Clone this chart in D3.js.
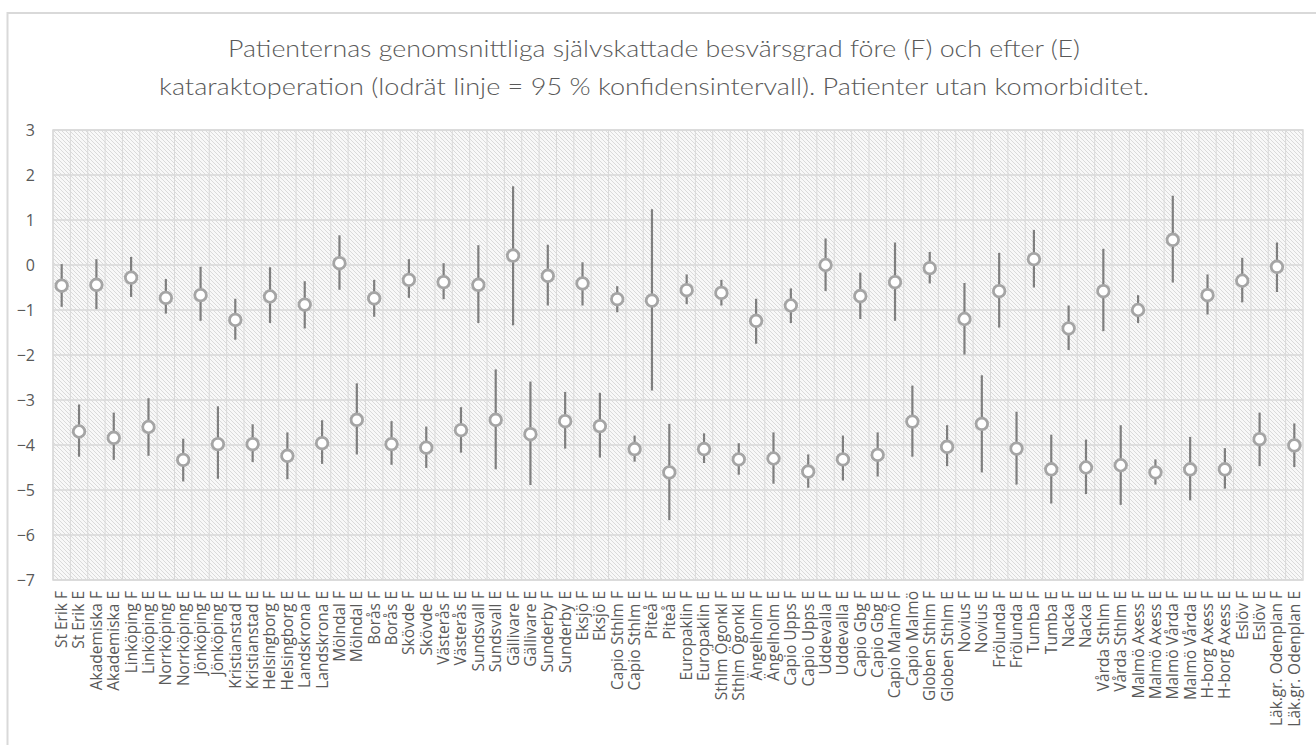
<!DOCTYPE html>
<html>
<head>
<meta charset="utf-8">
<script src="https://cdn.jsdelivr.net/npm/d3@7"></script>
<style>
  body { margin: 0; background: #fff; }
  svg { display: block; }
</style>
</head>
<body>
<svg></svg>
<script>
var width = 1316;
var height = 745;

// tick labels on the x axis, F = före, E = efter
var categories = [
  'St Erik F', 'St Erik E', 'Akademiska F', 'Akademiska E', 'Linköping F', 'Linköping E',
  'Norrköping F', 'Norrköping E', 'Jönköping F', 'Jönköping E', 'Kristianstad F', 'Kristianstad E',
  'Helsingborg F', 'Helsingborg E', 'Landskrona F', 'Landskrona E', 'Mölndal F', 'Mölndal E',
  'Borås F', 'Borås E', 'Skövde F', 'Skövde E', 'Västerås F', 'Västerås E',
  'Sundsvall F', 'Sundsvall E', 'Gällivare F', 'Gällivare E', 'Sunderby F', 'Sunderby E',
  'Eksjö F', 'Eksjö E', 'Capio Sthlm F', 'Capio Sthlm E', 'Piteå F', 'Piteå E',
  'Europaklin F', 'Europaklin E', 'Sthlm Ögonkl F', 'Sthlm Ögonkl E', 'Ängelholm F', 'Ängelholm E',
  'Capio Upps F', 'Capio Upps E', 'Uddevalla F', 'Uddevalla E', 'Capio Gbg F', 'Capio Gbg E',
  'Capio Malmö F', 'Capio Malmö', 'Globen Sthlm F', 'Globen Sthlm E', 'Novius F', 'Novius E',
  'Frölunda F', 'Frölunda E', 'Tumba F', 'Tumba E', 'Nacka F', 'Nacka E',
  'Vårda Sthlm F', 'Vårda Sthlm E', 'Malmö Axess F', 'Malmö Axess E', 'Malmö Vårda F', 'Malmö Vårda E',
  'H-borg Axess F', 'H-borg Axess E', 'Eslöv F', 'Eslöv E', 'Läk.gr. Odenplan F', 'Läk.gr. Odenplan E'
];

// före (F): mean and 95% CI, one per clinic
var fMean = [-0.46, -0.44, -0.28, -0.73, -0.67, -1.22, -0.70, -0.88, 0.04, -0.74, -0.33, -0.38,
             -0.44, 0.21, -0.24, -0.41, -0.76, -0.79, -0.56, -0.62, -1.24, -0.90, 0.00, -0.69,
             -0.38, -0.07, -1.20, -0.58, 0.13, -1.41, -0.58, -1.00, 0.56, -0.67, -0.35, -0.04];
var fLow  = [-0.93, -0.98, -0.71, -1.08, -1.24, -1.66, -1.29, -1.41, -0.55, -1.15, -0.73, -0.76,
             -1.29, -1.34, -0.90, -0.90, -1.05, -2.79, -0.87, -0.90, -1.75, -1.29, -0.58, -1.20,
             -1.24, -0.41, -1.99, -1.39, -0.50, -1.89, -1.47, -1.29, -0.39, -1.10, -0.83, -0.60];
var fHigh = [0.02, 0.13, 0.18, -0.31, -0.04, -0.75, -0.05, -0.36, 0.66, -0.33, 0.13, 0.04,
             0.44, 1.75, 0.45, 0.06, -0.47, 1.24, -0.21, -0.33, -0.75, -0.52, 0.59, -0.17,
             0.50, 0.29, -0.40, 0.27, 0.78, -0.90, 0.36, -0.67, 1.54, -0.21, 0.16, 0.50];

// efter (E)
var eMean = [-3.70, -3.84, -3.60, -4.33, -3.98, -3.98, -4.24, -3.96, -3.44, -3.98, -4.06, -3.67,
             -3.44, -3.76, -3.47, -3.58, -4.09, -4.61, -4.09, -4.32, -4.30, -4.59, -4.32, -4.22,
             -3.48, -4.04, -3.53, -4.08, -4.54, -4.50, -4.45, -4.61, -4.54, -4.54, -3.87, -4.01];
var eLow  = [-4.26, -4.33, -4.24, -4.81, -4.75, -4.38, -4.76, -4.42, -4.21, -4.44, -4.51, -4.17,
             -4.54, -4.89, -4.08, -4.28, -4.37, -5.67, -4.40, -4.66, -4.86, -4.95, -4.79, -4.70,
             -4.26, -4.47, -4.61, -4.88, -5.30, -5.09, -5.33, -4.88, -5.23, -4.97, -4.47, -4.49];
var eHigh = [-3.10, -3.28, -2.96, -3.86, -3.14, -3.54, -3.72, -3.45, -2.63, -3.47, -3.59, -3.16,
             -2.32, -2.59, -2.82, -2.84, -3.79, -3.53, -3.74, -3.96, -3.72, -4.21, -3.79, -3.72,
             -2.68, -3.56, -2.45, -3.26, -3.77, -3.88, -3.56, -4.32, -3.82, -4.07, -3.28, -3.52];

var yTicks = [3, 2, 1, 0, -1, -2, -3, -4, -5, -6, -7];

var titleLines = [
  'Patienternas genomsnittliga självskattade besvärsgrad före (F) och efter (E)',
  'kataraktoperation (lodrät linje = 95 % konfidensintervall). Patienter utan komorbiditet.'
];

var points = [];
fMean.forEach(function(m, i) {
  points.push({ cat: categories[2 * i], mean: m, lo: fLow[i], hi: fHigh[i] });
  points.push({ cat: categories[2 * i + 1], mean: eMean[i], lo: eLow[i], hi: eHigh[i] });
});

var margin = { top: 130, right: 13, bottom: 165, left: 53 };
var plotW = width - margin.left - margin.right;
var plotH = height - margin.top - margin.bottom;

var svg = d3.select('svg')
    .attr('width', width)
    .attr('height', height);

// hatch fill of the plot area
var defs = svg.append('defs');
var pat = defs.append('pattern')
    .attr('id', 'hatch')
    .attr('patternUnits', 'userSpaceOnUse')
    .attr('width', 4)
    .attr('height', 4);
pat.append('rect').attr('width', 4).attr('height', 4).attr('fill', '#f8f8f8');
pat.append('path')
    .attr('d', 'M-1,-1 L5,5 M-1,3 L1,5 M3,-1 L5,1')
    .attr('stroke', '#dadada')
    .attr('stroke-width', 1);

// outer chart frame
svg.append('rect')
    .attr('x', 7.5).attr('y', 13)
    .attr('width', width).attr('height', height)
    .attr('fill', 'none')
    .attr('stroke', '#d9d9d9')
    .attr('stroke-width', 2);

svg.append('g')
    .selectAll('text')
    .data(titleLines)
    .enter().append('text')
    .attr('x', 654)
    .attr('y', function(d, i) { return 57 + i * 38; })
    .attr('text-anchor', 'middle')
    .attr('font-family', 'Lato, sans-serif')
    .attr('font-weight', 300)
    .attr('font-size', 24)
    .attr('fill', '#595959')
    .attr('textLength', function(d, i) { return i === 0 ? 852 : 990; })
    .attr('lengthAdjust', 'spacingAndGlyphs')
    .text(function(d) { return d; });

var g = svg.append('g')
    .attr('transform', 'translate(' + margin.left + ',' + margin.top + ')');

var x = d3.scaleBand()
    .domain(categories)
    .range([0, plotW]);

var y = d3.scaleLinear()
    .domain([-7, 3])
    .range([plotH, 0]);

g.append('rect')
    .attr('width', plotW)
    .attr('height', plotH)
    .attr('fill', 'url(#hatch)');

// vertical category gridlines
g.append('g')
    .selectAll('line')
    .data(categories)
    .enter().append('line')
    .attr('x1', function(d) { return x(d); })
    .attr('x2', function(d) { return x(d); })
    .attr('y1', 0)
    .attr('y2', plotH)
    .attr('stroke', '#d9d9d9')
    .attr('stroke-width', 1);

// horizontal gridlines
g.append('g')
    .selectAll('line')
    .data(yTicks)
    .enter().append('line')
    .attr('x1', 0)
    .attr('x2', plotW)
    .attr('y1', function(d) { return y(d); })
    .attr('y2', function(d) { return y(d); })
    .attr('stroke', '#d9d9d9')
    .attr('stroke-width', 1.5);

g.append('rect')
    .attr('width', plotW)
    .attr('height', plotH)
    .attr('fill', 'none')
    .attr('stroke', '#d9d9d9')
    .attr('stroke-width', 1.5);

var yAxis = g.append('g')
    .call(d3.axisLeft(y).tickValues(yTicks).tickSize(0).tickPadding(18));
yAxis.select('.domain').remove();
yAxis.selectAll('text')
    .attr('font-family', 'Open Sans, sans-serif')
    .attr('font-size', 16)
    .attr('fill', '#595959');

var xAxis = g.append('g')
    .attr('transform', 'translate(0,' + plotH + ')')
    .call(d3.axisBottom(x).tickSize(0).tickPadding(0));
xAxis.select('.domain').remove();
xAxis.selectAll('text')
    .attr('font-family', 'Open Sans, sans-serif')
    .attr('font-size', 15.5)
    .attr('fill', '#595959')
    .attr('transform', 'rotate(-90)')
    .attr('text-anchor', 'end')
    .attr('x', -11)
    .attr('y', 0)
    .attr('dy', '0.35em');

// 95% CI lines
g.append('g')
    .selectAll('line')
    .data(points)
    .enter().append('line')
    .attr('x1', function(d) { return x(d.cat) + x.bandwidth() / 2; })
    .attr('x2', function(d) { return x(d.cat) + x.bandwidth() / 2; })
    .attr('y1', function(d) { return y(d.hi); })
    .attr('y2', function(d) { return y(d.lo); })
    .attr('stroke', '#7f7f7f')
    .attr('stroke-width', 2.2);

g.append('g')
    .selectAll('circle')
    .data(points)
    .enter().append('circle')
    .attr('cx', function(d) { return x(d.cat) + x.bandwidth() / 2; })
    .attr('cy', function(d) { return y(d.mean); })
    .attr('r', 5.8)
    .attr('fill', '#ffffff')
    .attr('stroke', '#a5a5a5')
    .attr('stroke-width', 2.8);
</script>
</body>
</html>
